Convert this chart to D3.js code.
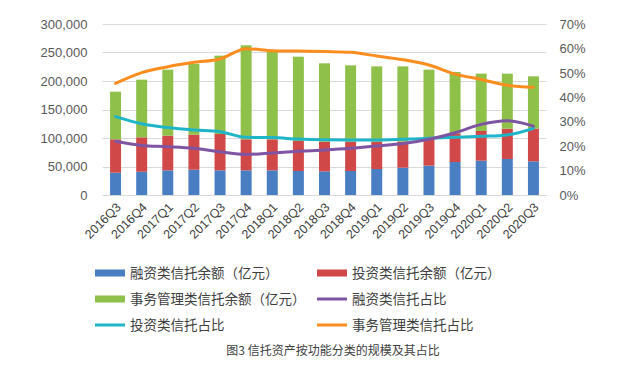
<!DOCTYPE html>
<html><head><meta charset="utf-8">
<script src="https://cdn.jsdelivr.net/npm/d3@7"></script>
<style>body{margin:0;background:#fff;} svg{display:block;}</style>
</head><body>
<svg id="c" width="625" height="388"></svg>
<script>
const categories = ["2016Q3","2016Q4","2017Q1","2017Q2","2017Q3","2017Q4","2018Q1","2018Q2","2018Q3","2018Q4","2019Q1","2019Q2","2019Q3","2019Q4","2020Q1","2020Q2","2020Q3"];
const financing = [39200,40900,43300,44400,43300,43300,43300,42100,41500,42100,45600,48000,51500,57900,60200,63200,59100];
const investment = [58500,60300,60800,61500,63700,54400,54400,52600,52100,51500,48000,45600,45000,50300,52100,53200,57300];
const management = [83600,101100,115800,124500,137400,164900,155500,148000,137400,133900,132100,132100,123400,107600,100600,96500,91800];
const financingPct = [22.0,20.3,19.8,19.1,17.7,16.6,17.2,17.9,18.4,19.1,20.1,21.1,22.8,25.5,28.9,30.4,28.2];
const investmentPct = [32.1,29.2,27.6,26.6,25.9,23.6,23.5,22.9,22.6,22.5,22.5,22.8,23.2,23.6,24.0,24.6,27.3];
const managementPct = [45.7,50.1,52.5,54.3,55.7,59.9,59.1,58.9,58.7,58.4,56.9,55.4,53.2,49.5,47.3,44.9,44.1];
const leftTicks = [0,50000,100000,150000,200000,250000,300000];
const rightTicks = [0,10,20,30,40,50,60,70];
const legendLabels = ["融资类信托余额（亿元）","投资类信托余额（亿元）","事务管理类信托余额（亿元）","融资类信托占比","投资类信托占比","事务管理类信托占比"];
const caption = "图3  信托资产按功能分类的规模及其占比";

const colors = {fin:"#4a7ec2", inv:"#d04848", man:"#8fc04a", finL:"#7e55a3", invL:"#1fb5c9", manL:"#fb8c1e"};
const font = "'Liberation Sans', Arial, sans-serif";
const cjk = "'Noto Sans CJK SC', sans-serif";

const svg = d3.select("#c");
const L=102.5, R=546.5, T=24, B=195;
const x = d3.scaleBand().domain(categories).range([L,R]).paddingInner(0.58).paddingOuter(0.29);
const y = d3.scaleLinear().domain([0,300000]).range([B,T]);
const y2 = d3.scaleLinear().domain([0,70]).range([B,T]);

// grid
svg.append("g").selectAll("line").data(leftTicks).join("line")
  .attr("x1",L).attr("x2",R).attr("y1",d=>Math.round(y(d))+0.5).attr("y2",d=>Math.round(y(d))+0.5)
  .attr("stroke","#d9d9d9").attr("stroke-width",1);

// left axis
const la = svg.append("g").attr("transform",`translate(${L},0)`)
  .call(d3.axisLeft(y).tickValues(leftTicks).tickFormat(d3.format(",")).tickSize(0).tickPadding(15));
la.select(".domain").remove();
la.selectAll("text").attr("font-family",font).attr("font-size",13).attr("fill","#595959");

// right axis
const ra = svg.append("g").attr("transform",`translate(${R},0)`)
  .call(d3.axisRight(y2).tickValues(rightTicks).tickFormat(d=>d+"%").tickSize(0).tickPadding(13));
ra.select(".domain").remove();
ra.selectAll("text").attr("font-family",font).attr("font-size",13).attr("fill","#595959");

// bottom axis
const ba = svg.append("g").attr("transform",`translate(0,${B})`)
  .call(d3.axisBottom(x).tickSize(0).tickPadding(0));
ba.select(".domain").attr("stroke","#d9d9d9");
ba.selectAll("text").attr("font-family",font).attr("font-size",12.5).attr("fill","#404040")
  .attr("text-anchor","end").attr("dy",0)
  .attr("transform", "translate(6,13) rotate(-45)");

// stacked bars
const rows = categories.map((c,i)=>({cat:c, fin:financing[i], inv:investment[i], man:management[i]}));
const stack = d3.stack().keys(["fin","inv","man"])(rows);
svg.append("g").selectAll("g").data(stack).join("g").attr("fill",d=>colors[d.key])
  .selectAll("rect").data(d=>d).join("rect")
  .attr("x",d=>x(d.data.cat)).attr("width",x.bandwidth())
  .attr("y",d=>y(d[1])).attr("height",d=>y(d[0])-y(d[1]));

// lines
const line = d3.line().x((d,i)=>x(categories[i])+x.bandwidth()/2).y(d=>y2(d)).curve(d3.curveMonotoneX);
[[managementPct,colors.manL],[investmentPct,colors.invL],[financingPct,colors.finL]].forEach(([arr,col])=>{
  svg.append("path").attr("d",line(arr)).attr("fill","none").attr("stroke",col)
    .attr("stroke-width",3).attr("stroke-linejoin","round").attr("stroke-linecap","round");
});

// legend
const legItems = [
  {t:legendLabels[0],c:colors.fin,bar:true,col:0,row:0},
  {t:legendLabels[1],c:colors.inv,bar:true,col:1,row:0},
  {t:legendLabels[2],c:colors.man,bar:true,col:0,row:1},
  {t:legendLabels[3],c:colors.finL,bar:false,col:1,row:1},
  {t:legendLabels[4],c:colors.invL,bar:false,col:0,row:2},
  {t:legendLabels[5],c:colors.manL,bar:false,col:1,row:2}
];
const colX=[95,317], rowY=[273,299,325];
const lg = svg.append("g");
legItems.forEach(it=>{
  const gx=colX[it.col], gy=rowY[it.row];
  if(it.bar) lg.append("rect").attr("x",gx).attr("y",gy-3.5).attr("width",30).attr("height",7).attr("fill",it.c);
  else lg.append("rect").attr("x",gx).attr("y",gy-1.5).attr("width",30).attr("height",3).attr("fill",it.c);
  lg.append("text").attr("x",gx+35).attr("y",gy).attr("dy","0.35em")
    .attr("font-family",cjk).attr("font-size",13.5).attr("fill","#404040").text(it.t);
});

svg.append("text").attr("x",333).attr("y",355).attr("text-anchor","middle")
  .attr("font-family",cjk).attr("font-size",12).attr("fill","#404040").text(caption);
</script>
</body></html>
